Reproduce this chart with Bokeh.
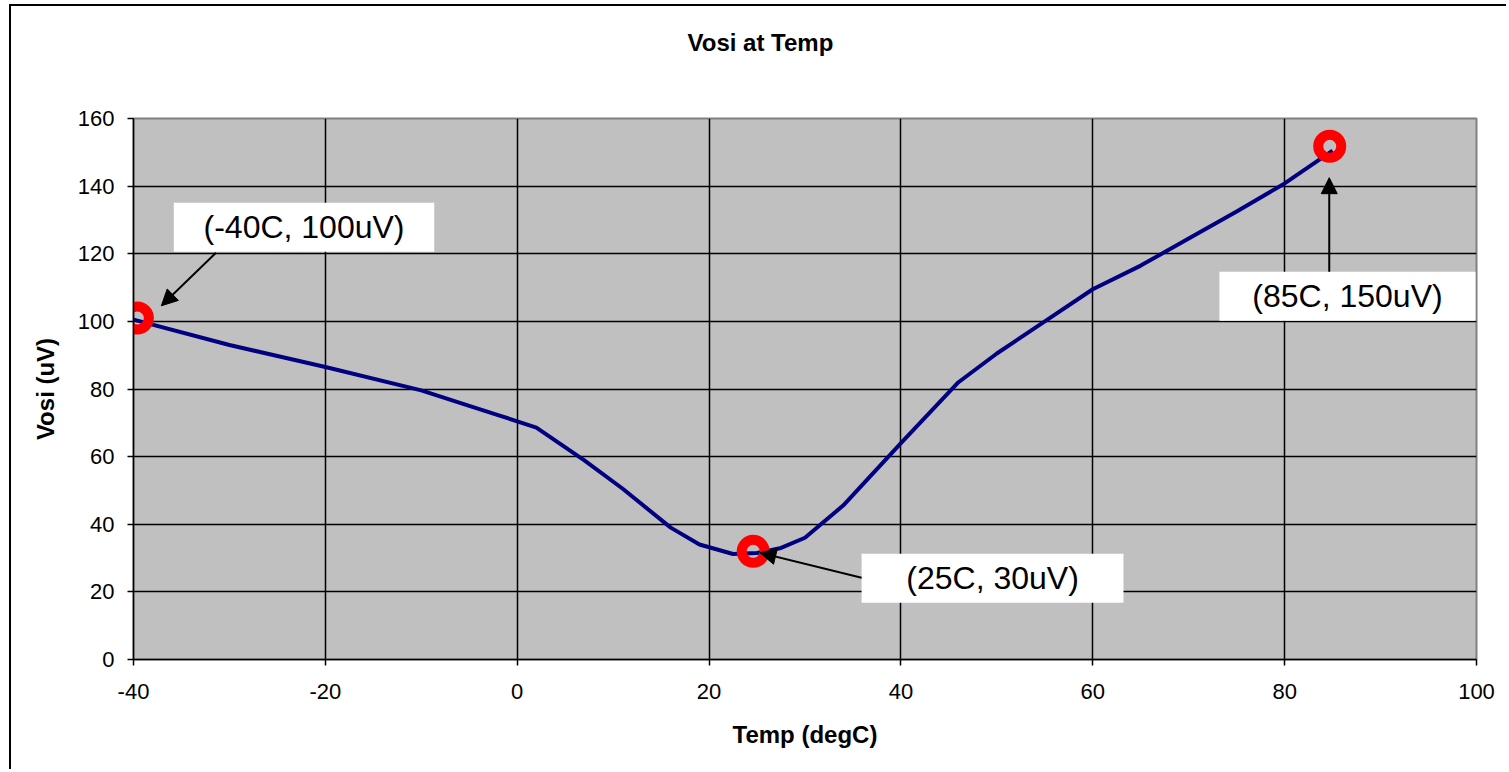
from bokeh.plotting import figure
from bokeh.models import Range1d, FixedTicker, Label, Arrow, NormalHead, PrintfTickFormatter, Title
from bokeh.embed import file_html
from bokeh.resources import INLINE

# ---- data ----
temp = [-40, -30, -20, -10, -5, -2, 2, 7, 11, 16, 19, 22.5, 25, 27.5, 30, 34,
        40, 46, 50, 55, 60, 65, 70, 75, 80, 85]
vosi = [100.5, 93, 86.5, 79.6, 75, 72.3, 68.6, 58.9, 50.5, 39, 34, 31.2, 31.5,
        33, 36, 45.6, 64, 82, 90.5, 100, 109.5, 116.5, 124.5, 132.5, 140.8, 150.5]

marker_temp = [-39.6, 24.6, 84.7]
marker_vosi = [101, 32, 151.8]

x_ticks = [-40, -20, 0, 20, 40, 60, 80, 100]
y_ticks = [0, 20, 40, 60, 80, 100, 120, 140, 160]

notes = ["(-40C, 100uV)", "(25C, 30uV)", "(85C, 150uV)"]
# boxes: left, right, bottom, top (data units)
box_l = [-35.8, 35.9, 73.2]
box_r = [-8.65, 63.2, 99.9]
box_b = [120.6, 16.8, 100.2]
box_t = [135.1, 31.3, 114.7]
# arrows: start -> end (data units)
arr_x0 = [-31.4, 35.9, 84.65]
arr_y0 = [120.3, 24.2, 114.7]
arr_x1 = [-37.1, 25.3, 84.65]
arr_y1 = [104.6, 31.6, 142.5]

FONT = "Liberation Sans"

p = figure(width=1497, height=765, output_backend="svg", toolbar_location=None,
           x_range=Range1d(-40, 100), y_range=Range1d(0, 160),
           min_border_left=122, min_border_right=32, min_border_top=112,
           min_border_bottom=112)
p.styles = {"border-left": "2px solid #000", "border-top": "2px solid #000",
            "margin-left": "9px", "margin-top": "4px"}
p.title.text = ""

# spacer between frame and title (closest to frame), then the title
p.add_layout(Title(text=" ", text_font_size="2px", standoff=54), "above")
p.add_layout(Title(text="Vosi at Temp", align="left", offset=554,
                   text_font=FONT, text_font_size="24px",
                   text_font_style="bold", text_color="black", standoff=10),
             "above")

p.background_fill_color = "#C0C0C0"
p.border_fill_color = "white"
p.outline_line_color = "#808080"
p.outline_line_width = 2

for ax in (p.xaxis[0], p.yaxis[0]):
    ax.axis_line_color = "black"
    ax.axis_line_width = 1.5
    ax.major_tick_line_color = "black"
    ax.major_tick_line_width = 1.5
    ax.major_tick_out = 6
    ax.major_tick_in = 0
    ax.minor_tick_line_color = None
    ax.major_label_text_font = FONT
    ax.major_label_text_font_size = "22px"
    ax.major_label_text_color = "black"
    ax.axis_label_text_font = FONT
    ax.axis_label_text_font_size = "24px"
    ax.axis_label_text_font_style = "bold"
    ax.axis_label_text_color = "black"
    ax.formatter = PrintfTickFormatter(format="%d")

p.xaxis.ticker = FixedTicker(ticks=x_ticks)
p.yaxis.ticker = FixedTicker(ticks=y_ticks)
p.xaxis.axis_label = "Temp (degC)"
p.yaxis.axis_label = "Vosi (uV)"
p.xaxis.major_label_standoff = 18
p.xaxis.axis_label_standoff = 19
p.yaxis.major_label_standoff = 13
p.yaxis.axis_label_standoff = 16

p.xgrid.ticker = FixedTicker(ticks=x_ticks)
p.ygrid.ticker = FixedTicker(ticks=y_ticks)
p.grid.grid_line_color = "black"
p.grid.grid_line_width = 1.5
p.grid.grid_line_alpha = 1.0

p.line(temp, vosi, line_color="#000080", line_width=4)

p.scatter(marker_temp, marker_vosi, marker="circle", size=23,
          line_color="#FF0000", line_width=10, fill_alpha=0)

p.quad(left=box_l, right=box_r, bottom=box_b, top=box_t,
       fill_color="white", line_color=None)

for i, t in enumerate(notes):
    cx = (box_l[i] + box_r[i]) / 2
    cy = (box_b[i] + box_t[i]) / 2
    p.add_layout(Label(x=cx, y=cy, text=t, text_align="center",
                       text_baseline="middle", text_font=FONT,
                       text_font_size="32px", text_color="black"))

for i in range(3):
    p.add_layout(Arrow(end=NormalHead(size=16, fill_color="black",
                                      line_color="black"),
                       x_start=arr_x0[i], y_start=arr_y0[i],
                       x_end=arr_x1[i], y_end=arr_y1[i],
                       line_color="black", line_width=2))

open("out.html", "w").write(file_html(p, INLINE))
